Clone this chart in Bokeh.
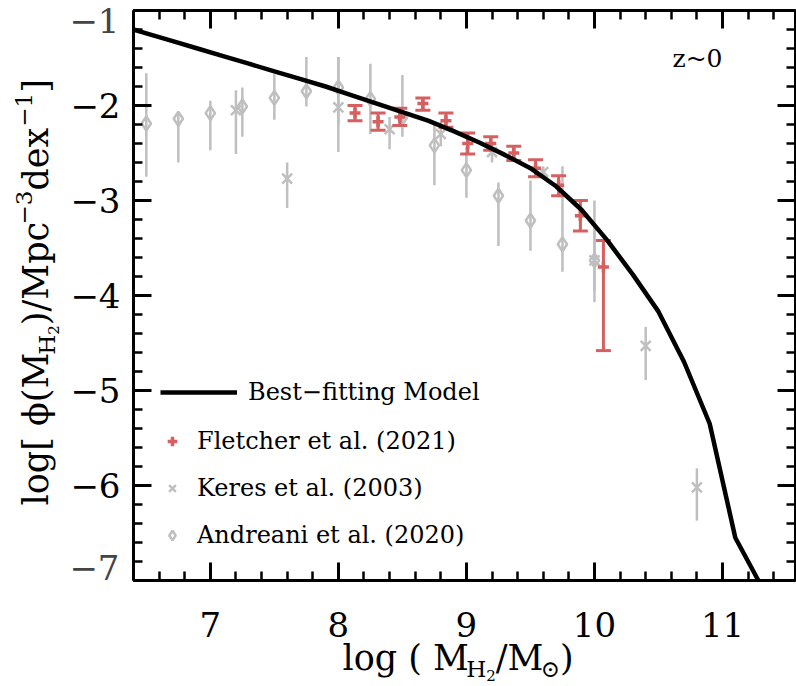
import math
from bokeh.plotting import figure
from bokeh.models import (Range1d, LinearAxis, SingleIntervalTicker, Label,
                          Legend, LegendItem, CustomJSTickFormatter)
from bokeh.embed import file_html
from bokeh.resources import INLINE

# ---------------- data ----------------
model_x = [6.4, 6.5, 6.7, 6.9, 7.1, 7.3, 7.5, 7.7, 7.9, 8.1, 8.3, 8.5, 8.7, 8.9,
           9.1, 9.3, 9.5, 9.7, 9.9, 10.1, 10.3, 10.5, 10.7, 10.9, 11.1, 11.28]
model_y = [-1.20, -1.24, -1.32, -1.40, -1.48, -1.56, -1.64, -1.72, -1.80, -1.89,
           -1.98, -2.07, -2.16, -2.27, -2.39, -2.52, -2.66, -2.85, -3.10, -3.42,
           -3.78, -4.17, -4.70, -5.35, -6.55, -7.00]

fl_x = [8.13, 8.31, 8.48, 8.66, 8.84, 9.01, 9.19, 9.37, 9.54, 9.72, 9.89, 10.07]
fl_y = [-2.08, -2.17, -2.12, -1.98, -2.16, -2.40, -2.40, -2.50, -2.66, -2.84, -3.16, -3.70]
fl_hi = [-2.00, -2.08, -2.03, -1.92, -2.08, -2.29, -2.33, -2.43, -2.57, -2.74, -3.00, -3.42]
fl_lo = [-2.16, -2.26, -2.21, -2.05, -2.23, -2.51, -2.47, -2.58, -2.75, -2.95, -3.32, -4.58]

ke_x = [7.2, 7.6, 8.0, 8.4, 8.8, 9.2, 9.6, 10.0, 10.4, 10.8]
ke_y = [-2.05, -2.77, -2.02, -2.25, -2.30, -2.49, -2.70, -3.63, -4.53, -6.02]
ke_hi = [-1.84, -2.60, -1.49, -2.12, -2.17, -2.40, -2.64, -3.00, -4.33, -5.82]
ke_lo = [-2.51, -3.08, -2.49, -2.46, -2.43, -2.60, -2.76, -4.07, -4.89, -6.37]

an_x = [6.5, 6.75, 7.0, 7.25, 7.5, 7.75, 8.0, 8.25, 8.5, 8.75, 9.0, 9.25, 9.5, 9.75, 10.0]
an_y = [-2.19, -2.14, -2.08, -2.01, -1.92, -1.85, -1.81, -1.93, -2.13, -2.42, -2.68,
        -2.95, -3.21, -3.46, -3.63]
an_hi = [-1.66, -2.08, -1.95, -1.81, -1.67, -1.49, -1.49, -1.56, -1.68, -2.19, -2.44,
         -2.81, -2.79, -2.64, -3.30]
an_lo = [-2.75, -2.60, -2.47, -2.33, -2.15, -2.01, -2.20, -2.30, -2.33, -2.84, -2.97,
         -3.48, -3.53, -3.75, -3.95]

x_limits = [6.4, 11.57]
y_limits = [-7.0, -1.0]
ytick_values = [-1, -2, -3, -4, -5, -6, -7]
ytick_labels = ["\u22121", "\u22122", "\u22123", "\u22124", "\u22125", "\u22126", "\u22127"]
legend_labels = ["Best\u2212fitting Model", "Fletcher et al. (2021)",
                 "Keres et al. (2003)", "Andreani et al. (2020)"]
annot_text = "z~0"

# ---------------- layout ----------------
FONT = "DejaVu Serif"
GRAY = "#bfbfbf"
RED = "#d65f5f"
W_PX, H_PX = 796, 686
BOX_L, BOX_R, BOX_T, BOX_B = 133, 795, 10, 580   # data box in page pixels
MID = 0.35                                        # baseline -> "middle" anchor (em)

sx = (BOX_R - BOX_L) / (x_limits[1] - x_limits[0])
sy = (BOX_B - BOX_T) / (y_limits[1] - y_limits[0])
xr = Range1d(x_limits[0] - BOX_L / sx, x_limits[1] + (W_PX - BOX_R) / sx)
yr = Range1d(y_limits[0] - (H_PX - BOX_B) / sy, y_limits[1] + BOX_T / sy)

p = figure(width=W_PX, height=H_PX, x_range=xr, y_range=yr,
           x_axis_location=None, y_axis_location=None,
           output_backend="svg", toolbar_location=None, min_border=0,
           background_fill_color="white", border_fill_color="white")
p.grid.visible = False
p.outline_line_color = None


def make_axis(loc, bounds, show_labels):
    ax = LinearAxis(fixed_location=loc, bounds=tuple(bounds))
    ax.ticker = SingleIntervalTicker(interval=1, num_minor_ticks=5)
    ax.axis_line_color = "black"
    ax.axis_line_width = 3
    ax.major_tick_in = 18
    ax.major_tick_out = 0
    ax.minor_tick_in = 9
    ax.minor_tick_out = 0
    ax.major_tick_line_width = 3
    ax.minor_tick_line_width = 2.5
    ax.major_tick_line_color = "black"
    ax.minor_tick_line_color = "black"
    if show_labels:
        ax.major_label_text_font = FONT
        ax.major_label_text_font_size = "34px"
        ax.major_label_text_color = "black"
    else:
        ax.formatter = CustomJSTickFormatter(code="return ''")
        ax.major_label_text_font_size = "0px"
        ax.major_label_standoff = 0
    return ax


xa = make_axis(y_limits[0], x_limits, True)
xa.major_label_standoff = 31
ya = make_axis(x_limits[0], y_limits, True)
ya.major_label_standoff = 13
ov = {v: l for v, l in zip(ytick_values, ytick_labels)}
edge_top, edge_bot = ov[ytick_values[0]], ov[ytick_values[-1]]
ov[ytick_values[0]] = ""
ov[ytick_values[-1]] = ""
ya.major_label_overrides = ov
ra = make_axis(x_limits[1], y_limits, False)
ta = make_axis(y_limits[1], x_limits, False)
p.add_layout(xa, "below")
p.add_layout(ya, "left")
p.add_layout(ra, "right")
p.add_layout(ta, "above")

# ---------------- glyphs ----------------
p.segment(x0=an_x, y0=an_lo, x1=an_x, y1=an_hi, line_color=GRAY, line_width=2.5)
p.segment(x0=ke_x, y0=ke_lo, x1=ke_x, y1=ke_hi, line_color=GRAY, line_width=2.5)
r_an = p.scatter(an_x, an_y, marker="diamond", size=14, fill_color="white",
                 fill_alpha=0.0, line_color=GRAY, line_width=2.5)
r_ke = p.scatter(ke_x, ke_y, marker="x", size=14, line_color=GRAY, line_width=2.5)

p.segment(x0=fl_x, y0=fl_lo, x1=fl_x, y1=fl_hi, line_color=RED, line_width=3)
p.scatter(fl_x, fl_hi, marker="dash", size=15, line_color=RED, line_width=3)
p.scatter(fl_x, fl_lo, marker="dash", size=15, line_color=RED, line_width=3)
r_fl = p.scatter(fl_x, fl_y, marker="cross", size=11, line_color=RED, line_width=3.5)

r_mod = p.line(model_x, model_y, line_color="black", line_width=4.5)

# ---------------- legends ----------------
common = dict(padding=0, margin=0, border_line_alpha=0, background_fill_alpha=0,
              label_text_font=FONT, label_text_font_size="24px",
              label_text_color="black", glyph_height=30, label_height=30)
leg1 = Legend(items=[LegendItem(label=legend_labels[0], renderers=[r_mod])],
              location=(160, H_PX - 407), glyph_width=77, label_standoff=11,
              spacing=0, **common)
leg2 = Legend(items=[LegendItem(label=legend_labels[1], renderers=[r_fl]),
                     LegendItem(label=legend_labels[2], renderers=[r_ke]),
                     LegendItem(label=legend_labels[3], renderers=[r_an])],
              location=(160, H_PX - 550), glyph_width=24, label_standoff=13,
              spacing=17, **common)
p.add_layout(leg1)
p.add_layout(leg2)

# ---------------- texts ----------------
Z_SIZE = 25
p.add_layout(Label(x=672, y=H_PX - 67 + MID * Z_SIZE, x_units="screen", y_units="screen",
                   text=annot_text, text_font=FONT, text_font_size=f"{Z_SIZE}px",
                   text_color="black", text_baseline="middle"))
p.add_layout(Label(x=119, y=H_PX - 20, x_units="screen", y_units="screen",
                   text=edge_top, text_font=FONT, text_font_size="34px",
                   text_align="right", text_baseline="middle"))
p.add_layout(Label(x=119, y=H_PX - 567, x_units="screen", y_units="screen",
                   text=edge_bot, text_font=FONT, text_font_size="34px",
                   text_align="right", text_baseline="middle"))

W = {" ": .318, "(": .390, ")": .390, "/": .337, "[": .390, "]": .390,
     "M": .949, "H": .869, "l": .320, "o": .602, "g": .640, "d": .640, "e": .592,
     "x": .592, "p": .640, "c": .560, "\u2212": .838, "\u03d5": .70, "\u2299": .838}


def tw(s, size):
    return sum(W.get(ch, .636) for ch in s) * size


def run(pieces, x0, y0, rotated):
    pos = 0.0
    for text, size, shift in pieces:
        if rotated:
            lab = Label(x=x0 - shift - MID * size, y=y0 + pos,
                        angle=math.pi / 2, angle_units="rad")
        else:
            lab = Label(x=x0 + pos, y=y0 + shift + MID * size)
        lab.x_units = "screen"
        lab.y_units = "screen"
        lab.text = text
        lab.text_font = FONT
        lab.text_font_size = f"{size}px"
        lab.text_color = "black"
        lab.text_baseline = "middle"
        lab.text_align = "left"
        p.add_layout(lab)
        pos += tw(text, size)


BIG, SUB, SUB2 = 35, 23, 15
xlabel = [("log ( M", BIG, 0), ("H", SUB, -7), ("2", SUB2, -10), ("/M", BIG, 0),
          ("\u2299", SUB, -7), (" )", BIG, 0)]
run(xlabel, 342, H_PX - 670, False)

ylabel = [("log[ \u03d5(M", BIG, 0), ("H", SUB, -7), ("2", SUB2, -10), (")/Mpc", BIG, 0),
          ("\u22123", SUB, 16), ("dex", BIG, 0), ("\u22121", SUB, 16), ("  ]", BIG, 0)]
run(ylabel, 48, H_PX - 505, True)

open("out.html", "w").write(file_html(p, INLINE))
